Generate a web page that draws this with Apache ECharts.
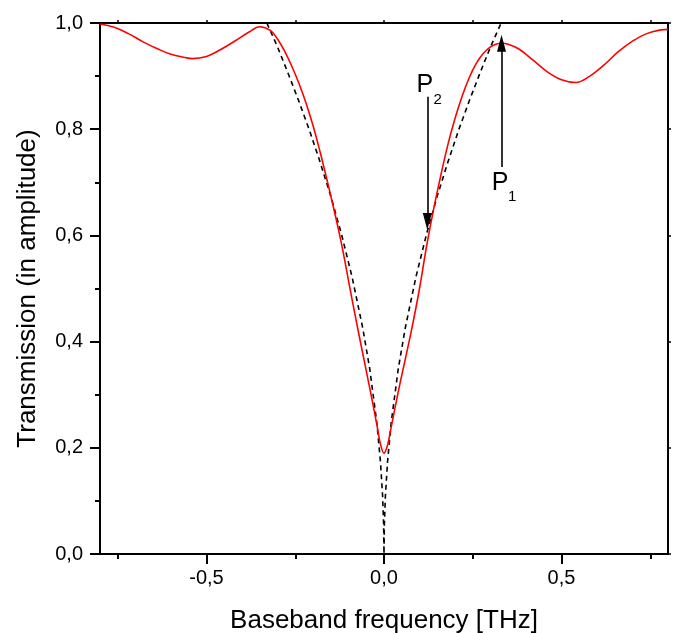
<!DOCTYPE html>
<html>
<head>
<meta charset="utf-8">
<script src="https://cdn.jsdelivr.net/npm/echarts@6/dist/echarts.min.js"></script>
<style>html,body{margin:0;padding:0;background:#fff}#c{width:675px;height:633px}</style>
</head>
<body>
<div id="c"></div>
<script>
// Red curve: transmission
const redX = [-0.80,-0.76,-0.72,-0.68,-0.64,-0.60,-0.56,-0.54,-0.50,-0.46,-0.42,-0.38,-0.35,-0.32,-0.30,-0.28,-0.26,-0.24,-0.22,-0.20,-0.18,-0.16,-0.14,-0.12,-0.10,-0.08,-0.06,-0.04,-0.02,-0.01,0.00,0.01,0.02,0.04,0.06,0.08,0.10,0.12,0.14,0.16,0.18,0.20,0.22,0.24,0.26,0.28,0.30,0.315,0.33,0.35,0.38,0.42,0.46,0.50,0.54,0.58,0.62,0.66,0.70,0.74,0.78,0.80];
const redY = [0.998,0.992,0.980,0.965,0.952,0.941,0.935,0.933,0.937,0.950,0.966,0.983,0.993,0.986,0.970,0.947,0.919,0.887,0.850,0.807,0.757,0.703,0.646,0.585,0.515,0.445,0.378,0.312,0.243,0.207,0.190,0.205,0.238,0.305,0.367,0.430,0.500,0.580,0.650,0.713,0.771,0.820,0.862,0.897,0.924,0.943,0.955,0.960,0.962,0.960,0.951,0.930,0.908,0.893,0.888,0.900,0.921,0.946,0.966,0.980,0.987,0.988];
// Dashed curve
const dashX = [-0.33,-0.30,-0.27,-0.24,-0.21,-0.18,-0.15,-0.12,-0.09,-0.06,-0.04,-0.02,-0.01,-0.004,-0.001,0.0,0.001,0.004,0.01,0.02,0.04,0.06,0.09,0.12,0.15,0.18,0.21,0.24,0.27,0.30,0.33];
const dashY = [1.0,0.955,0.905,0.853,0.798,0.738,0.674,0.603,0.522,0.426,0.348,0.246,0.174,0.110,0.055,0.0,0.055,0.110,0.174,0.246,0.348,0.426,0.522,0.603,0.674,0.738,0.798,0.853,0.905,0.955,1.0];
// Annotations
const arrowP2 = {x: 0.122, from: 0.861, to: 0.626};
const arrowP1 = {x: 0.331, from: 0.729, to: 0.962};
const labelsP = [
  {text: 'P', x: 0.115, y: 0.883, size: 25},
  {text: '2', x: 0.151, y: 0.855, size: 15},
  {text: 'P', x: 0.327, y: 0.699, size: 25},
  {text: '1', x: 0.361, y: 0.672, size: 15}
];
const xMajor = [-0.5, 0, 0.5];
const xMinor = [-0.75, -0.25, 0.25, 0.75];
const xAll = [-0.75, -0.5, -0.25, 0, 0.25, 0.5, 0.75];

const FONT = '"Liberation Sans", Arial, sans-serif';
const fmt = v => v.toFixed(1).replace('.', ',');
const chart = echarts.init(document.getElementById('c'), null, {renderer: 'canvas'});

const axisLine = {show: true, onZero: false, lineStyle: {color: '#000', width: 2}};
const option = {
  backgroundColor: '#fff',
  animation: false,
  grid: {left: 100, right: 7, top: 23, bottom: 79, containLabel: false, outerBoundsMode: 'none'},
  xAxis: [
    {
      type: 'value', min: -0.8, max: 0.8, position: 'bottom',
      axisLine: axisLine,
      axisTick: {show: true, customValues: xMajor, length: 10, lineStyle: {color: '#000', width: 2}},
      axisLabel: {show: true, customValues: xMajor, formatter: fmt, fontFamily: FONT, fontSize: 20, color: '#000', margin: 14},
      splitLine: {show: false},
      name: 'Baseband frequency [THz]', nameLocation: 'middle', nameGap: 54,
      nameTextStyle: {fontFamily: FONT, fontSize: 26, color: '#000'}
    },
    {
      type: 'value', min: -0.8, max: 0.8, position: 'bottom',
      axisLine: {show: false, onZero: false},
      axisTick: {show: true, customValues: xMinor, length: 5, lineStyle: {color: '#000', width: 2}},
      axisLabel: {show: false}, splitLine: {show: false}
    },
    {
      type: 'value', min: -0.8, max: 0.8, position: 'top',
      axisLine: axisLine,
      axisTick: {show: true, customValues: xAll, length: 3, lineStyle: {color: '#000', width: 1.5}},
      axisLabel: {show: false}, splitLine: {show: false}
    }
  ],
  yAxis: [
    {
      type: 'value', min: 0, max: 1, interval: 0.2, position: 'left',
      axisLine: axisLine,
      axisTick: {show: true, length: 10, lineStyle: {color: '#000', width: 2}},
      minorTick: {show: true, splitNumber: 2, length: 5, lineStyle: {color: '#000', width: 2}},
      axisLabel: {formatter: fmt, fontFamily: FONT, fontSize: 20, color: '#000', margin: 17},
      splitLine: {show: false}, minorSplitLine: {show: false},
      name: 'Transmission (in amplitude)', nameLocation: 'middle', nameGap: 59,
      nameTextStyle: {fontFamily: FONT, fontSize: 26, color: '#000'}
    },
    {
      type: 'value', min: 0, max: 1, interval: 0.2, position: 'right',
      axisLine: axisLine,
      axisTick: {show: true, length: 3, lineStyle: {color: '#000', width: 1.5}},
      axisLabel: {show: false}, splitLine: {show: false}
    }
  ],
  series: [
    {
      type: 'line', name: 'dashed', showSymbol: false, smooth: false,
      data: dashX.map((x, i) => [x, dashY[i]]),
      lineStyle: {color: '#000', width: 1.6, type: [5, 4]},
      z: 2
    },
    {
      type: 'line', name: 'transmission', showSymbol: false, smooth: 0.4,
      data: redX.map((x, i) => [x, redY[i]]),
      lineStyle: {color: '#ff0000', width: 1.6},
      z: 3
    },
    {
      type: 'line', name: 'annot', data: [], showSymbol: false,
      markLine: {
        silent: true, animation: false,
        symbol: ['none', 'triangle'], symbolSize: [9, 17],
        label: {show: false},
        lineStyle: {color: '#000', width: 1.6, type: 'solid'},
        data: [
          [{coord: [arrowP2.x, arrowP2.from]}, {coord: [arrowP2.x, arrowP2.to]}],
          [{coord: [arrowP1.x, arrowP1.from]}, {coord: [arrowP1.x, arrowP1.to]}]
        ]
      },
      markPoint: {
        silent: true, animation: false,
        symbol: 'circle', symbolSize: 0,
        data: labelsP.map(l => ({
          coord: [l.x, l.y],
          label: {show: true, position: 'inside', formatter: l.text, fontFamily: FONT, fontSize: l.size, color: '#000'}
        }))
      },
      z: 4
    }
  ]
};
chart.setOption(option);
</script>
</body>
</html>
